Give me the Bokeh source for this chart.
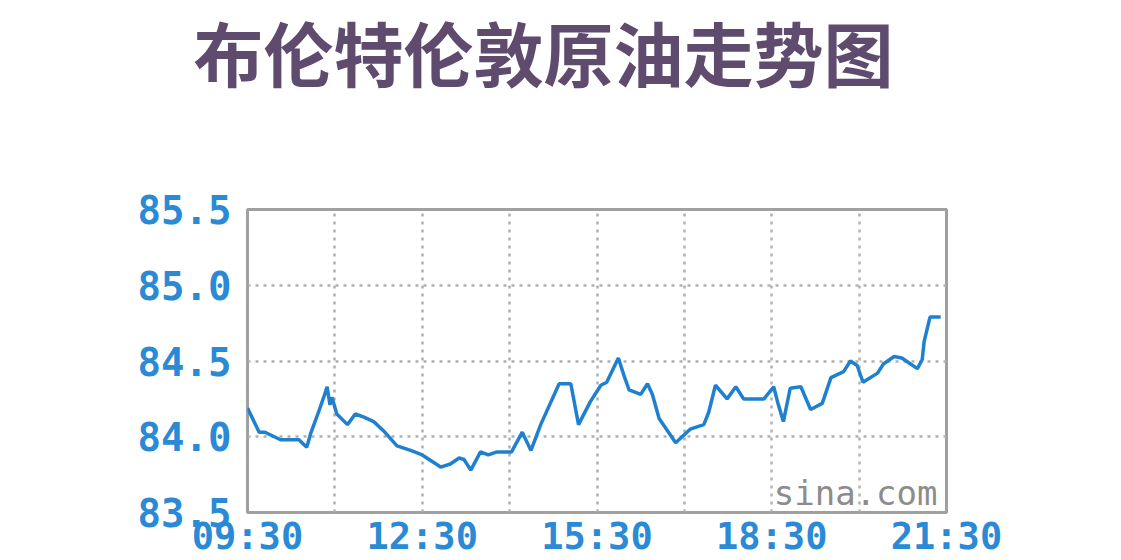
from bokeh.plotting import figure
from bokeh.models import Range1d, FixedTicker, Label, CustomJSTickFormatter, Title
from bokeh.embed import file_html
from bokeh.resources import INLINE

title_text = "布伦特伦敦原油走势图"

times = ["09:30", "09:42", "09:48", "10:04", "10:23", "10:31", "10:35", "10:43", "10:49", "10:52",
         "10:55", "10:57", "11:02", "11:13", "11:21", "11:30", "11:40", "11:50", "12:04", "12:18",
         "12:30", "12:49", "12:59", "13:08", "13:13", "13:20", "13:30", "13:38", "13:47", "14:02",
         "14:13", "14:22", "14:32", "14:51", "15:03", "15:11", "15:23", "15:34", "15:40", "15:52",
         "15:58", "16:03", "16:15", "16:22", "16:27", "16:34", "16:51", "17:06", "17:20", "17:25",
         "17:32", "17:44", "17:53", "18:01", "18:22", "18:32", "18:36", "18:42", "18:49", "19:00",
         "19:10", "19:22", "19:31", "19:44", "19:51", "19:58", "20:04", "20:19", "20:25", "20:36",
         "20:44", "21:00", "21:05", "21:07", "21:13", "21:24"]
prices = [84.19, 84.03, 84.03, 83.98, 83.98, 83.93, 84.02, 84.16, 84.27, 84.33,
          84.21, 84.26, 84.15, 84.08, 84.15, 84.13, 84.10, 84.04, 83.94, 83.91,
          83.88, 83.80, 83.82, 83.86, 83.85, 83.78, 83.90, 83.88, 83.90, 83.90,
          84.03, 83.91, 84.08, 84.35, 84.35, 84.08, 84.23, 84.34, 84.36, 84.52,
          84.40, 84.31, 84.28, 84.35, 84.28, 84.12, 83.96, 84.05, 84.08, 84.16,
          84.34, 84.25, 84.33, 84.25, 84.25, 84.33, 84.23, 84.10, 84.32, 84.33,
          84.18, 84.22, 84.39, 84.43, 84.50, 84.47, 84.36, 84.42, 84.48, 84.53,
          84.52, 84.45, 84.51, 84.63, 84.79, 84.79]

y_ticks = [83.5, 84.0, 84.5, 85.0, 85.5]
y_grid = [84.0, 84.5, 85.0]
x_label_times = ["09:30", "12:30", "15:30", "18:30", "21:30"]
x_grid_times = ["11:00", "12:30", "14:00", "15:30", "17:00", "18:30", "20:00"]
watermark = "sina.com"


def to_hours(t):
    h, m = t.split(":")
    return int(h) + int(m) / 60.0


xs = [to_hours(t) for t in times]

BLUE_TXT = "#2b8ad5"
GRID = "#b0b0b0"

W, H = 1121, 560
p = figure(width=W, height=H, output_backend="svg", toolbar_location=None,
           x_range=Range1d(to_hours("09:30"), to_hours("21:30")),
           y_range=Range1d(y_ticks[0], y_ticks[-1]),
           min_border_left=247, min_border_right=W - 946,
           min_border_top=209, min_border_bottom=0)
p.background_fill_color = "white"
p.border_fill_color = "white"
p.outline_line_color = "#a0a0a0"
p.outline_line_width = 3

# spacer between the frame and the title (pushes the title up)
p.add_layout(Title(text=" ", text_font_size="1px", standoff=103), "above")

# title
p.title.text = title_text
p.title.text_font = "Noto Sans CJK SC"
p.title.text_font_size = "70px"
p.title.text_font_style = "bold"
p.title.text_color = "#5e4b6e"
p.title.align = "left"
p.title.vertical_align = "top"
p.title.offset = -54
p.title.standoff = 0

# x axis
xax = p.xaxis[0]
xax.ticker = FixedTicker(ticks=[to_hours(t) for t in x_label_times])
xax.formatter = CustomJSTickFormatter(code="""
    const h = Math.floor(tick + 1e-6);
    const m = Math.round((tick - h) * 60);
    return String(h).padStart(2, '0') + ':' + String(m).padStart(2, '0');
""")
xax.axis_line_color = None
xax.major_tick_line_color = None
xax.minor_tick_line_color = None
xax.major_tick_out = 0
xax.major_tick_in = 0
xax.major_label_standoff = 2
xax.major_label_text_font = "DejaVu Sans Mono"
xax.major_label_text_font_size = "37px"
xax.major_label_text_font_style = "bold"
xax.major_label_text_color = BLUE_TXT
p.xgrid.ticker = FixedTicker(ticks=[to_hours(t) for t in x_grid_times])
p.xgrid.grid_line_color = GRID
p.xgrid.grid_line_dash = "3 5"
p.xgrid.grid_line_width = 2.5

# y axis
yax = p.yaxis[0]
yax.ticker = FixedTicker(ticks=y_ticks)
yax.formatter = CustomJSTickFormatter(code="return tick.toFixed(1);")
yax.axis_line_color = None
yax.major_tick_line_color = None
yax.minor_tick_line_color = None
yax.major_tick_out = 0
yax.major_tick_in = 0
yax.major_label_standoff = 16
yax.major_label_text_font = "DejaVu Sans Mono"
yax.major_label_text_font_size = "39px"
yax.major_label_text_font_style = "bold"
yax.major_label_text_color = BLUE_TXT
p.ygrid.ticker = FixedTicker(ticks=y_grid)
p.ygrid.grid_line_color = GRID
p.ygrid.grid_line_dash = "3 5"
p.ygrid.grid_line_width = 2.5

p.line(xs, prices, line_color="#1f80d0", line_width=3.5)

p.add_layout(Label(x=to_hours("21:30"), x_offset=-9, y=20, x_units="data", y_units="screen",
                   text=watermark, text_align="right", text_baseline="alphabetic",
                   text_font="DejaVu Sans Mono", text_font_size="34px",
                   text_color="#8c8c8c"))

open("out.html", "w").write(file_html(p, INLINE))
